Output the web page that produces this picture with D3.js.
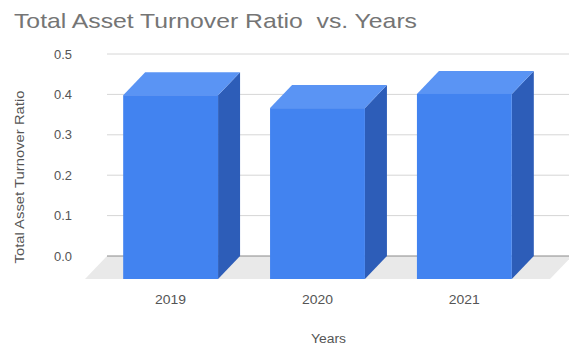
<!DOCTYPE html>
<html>
<head>
<meta charset="utf-8">
<script src="https://cdn.jsdelivr.net/npm/d3@7"></script>
<style>
  html, body { margin: 0; padding: 0; background: #fff; }
  svg { display: block; font-family: Arial, "Liberation Sans", sans-serif; }
</style>
</head>
<body>
<svg id="chart" width="569" height="345"></svg>
<script>
// Total asset turnover ratio per year
const years = ["2019", "2020", "2021"];
const ratios = [0.455, 0.423, 0.458];
const yTicks = [0, 0.1, 0.2, 0.3, 0.4, 0.5];
const tickLabels = ["0.0", "0.1", "0.2", "0.3", "0.4", "0.5"];

const svg = d3.select("#chart");
const W = 569, H = 345;

// depth offset of the 3D extrusion (back plane relative to front plane)
const depth = { dx: 22, dy: -23 };

const x = d3.scaleBand().domain(years).range([85, 550])
  .paddingInner(0.354).paddingOuter(0.26);
const y = d3.scaleLinear().domain([0, 0.5]).range([279, 77]);

const [x0, x1] = x.range();
const y0 = y(0);

// floor
svg.append("polygon")
  .attr("points", [[x0, y0], [x1, y0], [x1 + depth.dx, y0 + depth.dy], [x0 + depth.dx, y0 + depth.dy]].join(" "))
  .attr("fill", "#e9e9e9");

// gridlines on the back plane
svg.append("g").selectAll("line").data(yTicks).join("line")
  .attr("x1", x0 + depth.dx).attr("x2", x1 + depth.dx)
  .attr("y1", d => y(d) + depth.dy).attr("y2", d => y(d) + depth.dy)
  .attr("stroke", d => d === 0 ? "#8a8a8a" : "#d6d6d6")
  .attr("stroke-width", 1);

// y tick labels
svg.append("g").selectAll("text").data(yTicks).join("text")
  .attr("x", 72).attr("y", d => y(d) + depth.dy + 4.5)
  .attr("text-anchor", "end")
  .attr("font-size", 12.5).attr("fill", "#555")
  .attr("textLength", 18).attr("lengthAdjust", "spacingAndGlyphs")
  .text((d, i) => tickLabels[i]);

// 3D bars
const bars = svg.append("g").selectAll("g").data(years.map((yr, i) => ({ yr, v: ratios[i] }))).join("g");
const bw = x.bandwidth();
bars.append("polygon") // right side
  .attr("points", d => {
    const xl = x(d.yr) + bw, yt = y(d.v);
    return [[xl, yt], [xl + depth.dx, yt + depth.dy], [xl + depth.dx, y0 + depth.dy], [xl, y0]].join(" ");
  })
  .attr("fill", "#2d5db8");
bars.append("polygon") // top
  .attr("points", d => {
    const xl = x(d.yr), yt = y(d.v);
    return [[xl, yt], [xl + depth.dx, yt + depth.dy], [xl + bw + depth.dx, yt + depth.dy], [xl + bw, yt]].join(" ");
  })
  .attr("fill", "#5a94f4");
bars.append("rect") // front
  .attr("x", d => x(d.yr)).attr("y", d => y(d.v))
  .attr("width", bw).attr("height", d => y0 - y(d.v))
  .attr("fill", "#4283f0");

// x tick labels
svg.append("g").selectAll("text").data(years).join("text")
  .attr("x", d => x(d) + bw / 2).attr("y", 304)
  .attr("text-anchor", "middle")
  .attr("font-size", 12.5).attr("fill", "#555")
  .attr("textLength", 31).attr("lengthAdjust", "spacingAndGlyphs")
  .text(d => d);

// axis titles
svg.append("text")
  .attr("x", (x0 + x1 + depth.dx) / 2).attr("y", 342.5)
  .attr("text-anchor", "middle")
  .attr("font-size", 12.5).attr("fill", "#555")
  .attr("textLength", 35).attr("lengthAdjust", "spacingAndGlyphs")
  .text("Years");

svg.append("text")
  .attr("transform", "translate(23.5,177) rotate(-90)")
  .attr("text-anchor", "middle")
  .attr("font-size", 13.5).attr("fill", "#555")
  .attr("textLength", 173).attr("lengthAdjust", "spacingAndGlyphs")
  .text("Total Asset Turnover Ratio");

// chart title
svg.append("text")
  .attr("x", 14).attr("y", 28)
  .attr("font-size", 21).attr("fill", "#757575")
  .attr("textLength", 403).attr("lengthAdjust", "spacingAndGlyphs")
  .style("white-space", "pre")
  .text("Total Asset Turnover Ratio  vs. Years");
</script>
</body>
</html>
